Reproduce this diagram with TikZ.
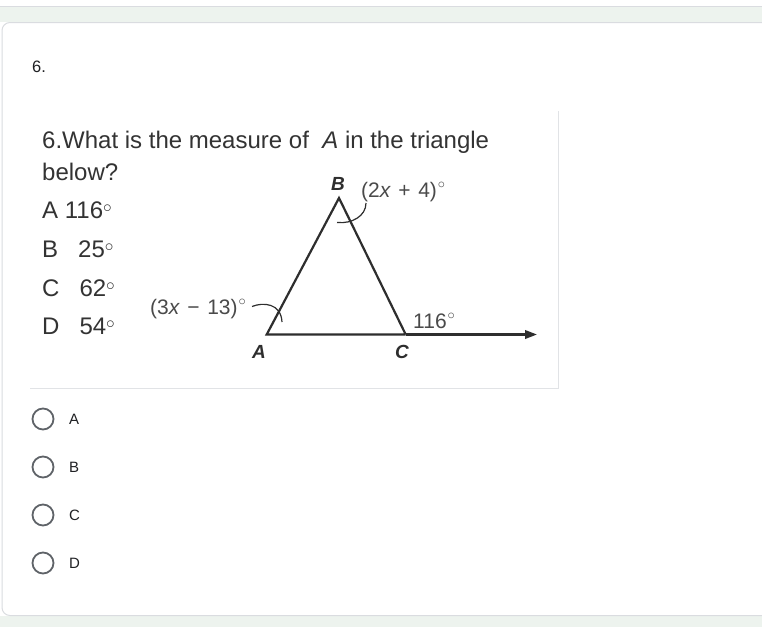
\documentclass[tikz,border=0pt]{standalone}
\usepackage{fontspec}
\setmainfont{Liberation Sans}
\usetikzlibrary{arrows.meta}
\definecolor{bandgreen}{HTML}{EDF3EE}
\definecolor{cardline}{HTML}{DADCE0}
\definecolor{radiogray}{HTML}{5F6368}
\definecolor{textdark}{HTML}{202124}
\definecolor{figline}{HTML}{2E2E2E}
\definecolor{figtext}{HTML}{4A4A4A}
\definecolor{qtext}{HTML}{333333}
\newcommand{\figdeg}{\hspace{1pt}\raisebox{9pt}{$\scriptstyle\circ$}}
\newcommand{\optdeg}{\raisebox{6pt}{$\scriptstyle\circ$}}
\begin{document}
\begin{tikzpicture}[x=1pt,y=-1pt,
  txt/.style={inner sep=0pt,anchor=base west},
  qline/.style={txt,text=qtext,font=\fontsize{24}{26}\selectfont},
  opt/.style={txt,text=qtext,font=\fontsize{24}{26}\selectfont},
  flabel/.style={txt,text=figtext,font=\fontsize{21}{23}\selectfont},
  vlabel/.style={inner sep=0pt,text=figline,font=\fontsize{19}{20}\selectfont\bfseries\itshape},
  side/.style={draw=figline,line width=2.2pt,line join=miter},
  anglemark/.style={draw=figline,line width=1.2pt},
  radio/.style={draw=radiogray,line width=1.8pt,circle,minimum size=21pt,inner sep=0pt},
  rlabel/.style={txt,text=textdark,font=\fontsize{15}{17}\selectfont}
]
\useasboundingbox (0,0) rectangle (762,627);
% background bands
\fill[white] (0,0) rectangle (762,627);
\fill[bandgreen] (0,6.5) rectangle (762,22);
\fill[bandgreen] (0,615.5) rectangle (762,627);
\draw[cardline,line width=1pt] (-10,6) -- (775,6);
\draw[cardline,line width=1pt,fill=white,rounded corners=8pt] (2,22.5) rectangle (790,615.5);

% question number
\node[txt,text=textdark,font=\fontsize{16.5}{18}\selectfont] (num) at (32,72.5) {6.};

% picture region border
\coordinate (pbl) at (30,388);
\coordinate (pbr) at (558,388);
\coordinate (ptr) at (558,111);
\draw[cardline!80,line width=1pt] (pbl) -- (pbr) -- (ptr);

% question text
\node[qline] (q1) at (42,148) {6.What is the measure of \ \textit{A} in the triangle};
\node[qline] (q2) at (42,180) {below?};

% options
\node[opt] (oa) at (42,218) {A 116\optdeg};
\node[opt] (ob) at (42,257) {B\hspace{20pt}25\optdeg};
\node[opt] (oc) at (42,296) {C\hspace{20pt}62\optdeg};
\node[opt] (od) at (42,334) {D\hspace{20pt}54\optdeg};

% triangle
\coordinate (A) at (266.7,334.5);
\coordinate (B) at (339,198);
\coordinate (C) at (405.7,334.5);
\coordinate (E) at (537,334.5);
\draw[side] (C) -- (A) -- (B) -- (C);
\draw[side,-{Triangle[length=12pt,width=8.5pt]}] (C) -- (E);

% angle marks
\draw[anglemark] (337,222.5) .. controls (352,224) and (366,216) .. (366,203);
\draw[anglemark] (252,306.5) .. controls (263,302) and (281,303) .. (282,322);

% vertex labels
\node[vlabel] (lA) at (259,352) {A};
\node[vlabel] (lB) at (338,184) {B};
\node[vlabel] (lC) at (402,352) {C};

% angle labels
\node[flabel] (tB) at (361,197) {(2\textit{x}\hspace{7.5pt}+\hspace{7.5pt}4)\figdeg};
\node[flabel] (tA) at (150,314.5) {(3\textit{x}\hspace{7.5pt}−\hspace{7.5pt}13)\figdeg};
\node[flabel] (tC) at (413,328.5) {116\figdeg};

% radio choices
\node[radio] (r1) at (43,419) {};
\node[radio] (r2) at (43,467) {};
\node[radio] (r3) at (43,515) {};
\node[radio] (r4) at (43,563) {};
\node[rlabel] (c1) at (69,424.5) {A};
\node[rlabel] (c2) at (69,472.5) {B};
\node[rlabel] (c3) at (69,520.5) {C};
\node[rlabel] (c4) at (69,568.5) {D};
\end{tikzpicture}
\end{document}
